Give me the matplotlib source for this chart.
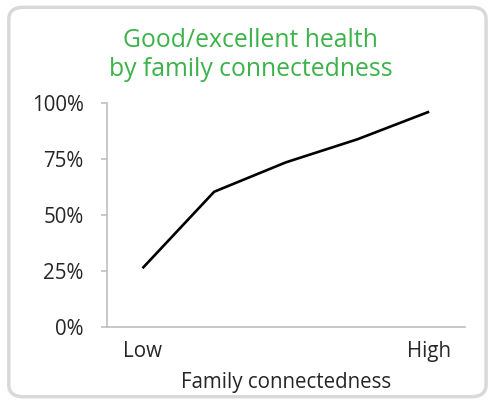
import matplotlib.pyplot as plt
from matplotlib.patches import FancyBboxPatch
from matplotlib.ticker import PercentFormatter

categories = ["Low", "", "", "", "High"]
health = [26.2, 60.3, 73.4, 83.7, 96.0]
yticks = [0, 25, 50, 75, 100]

plt.rcParams['font.family'] = ['Open Sans', 'DejaVu Sans']

fig = plt.figure(figsize=(4.9, 4.04), dpi=100)
# rounded light gray frame round the whole chart
frame = FancyBboxPatch((0.018, 0.018), 0.974, 0.964, boxstyle="round,pad=0,rounding_size=0.03",
                       transform=fig.transFigure, facecolor="none", edgecolor="#d9d9d9",
                       linewidth=2.5, zorder=-1)
fig.patches.append(frame)

ax = fig.add_axes([0.2177, 0.1906, 0.949 - 0.2177, 0.7458 - 0.1906])
ax.set_facecolor("none")
x = [i + 0.5 for i in range(len(categories))]
ax.plot(x, health, color="black", linewidth=1.9, solid_capstyle="butt")

ax.set_xlim(0, len(categories))
ax.set_ylim(0, 100)
ax.set_yticks(yticks)
ax.yaxis.set_major_formatter(PercentFormatter(decimals=0))
ax.set_xticks(x)
ax.set_xticklabels(categories)

for side in ["top", "right"]:
    ax.spines[side].set_visible(False)
for side in ["left", "bottom"]:
    ax.spines[side].set_color("#bfbfbf")
    ax.spines[side].set_linewidth(1.2)
ax.tick_params(axis="y", length=4, width=1.2, color="#bfbfbf", pad=12.5, labelsize=14.8, labelcolor="#262626")
ax.tick_params(axis="x", length=0, pad=10, labelsize=14.8, labelcolor="#262626")
ax.set_xlabel("Family connectedness", fontsize=14.8, color="#262626", labelpad=7)

fig.text(0.512, 0.864, "Good/excellent health\nby family connectedness", ha="center", va="center",
         fontsize=17.8, color="#3cb34a", linespacing=1.25)

fig.savefig("out.png", dpi=100)
